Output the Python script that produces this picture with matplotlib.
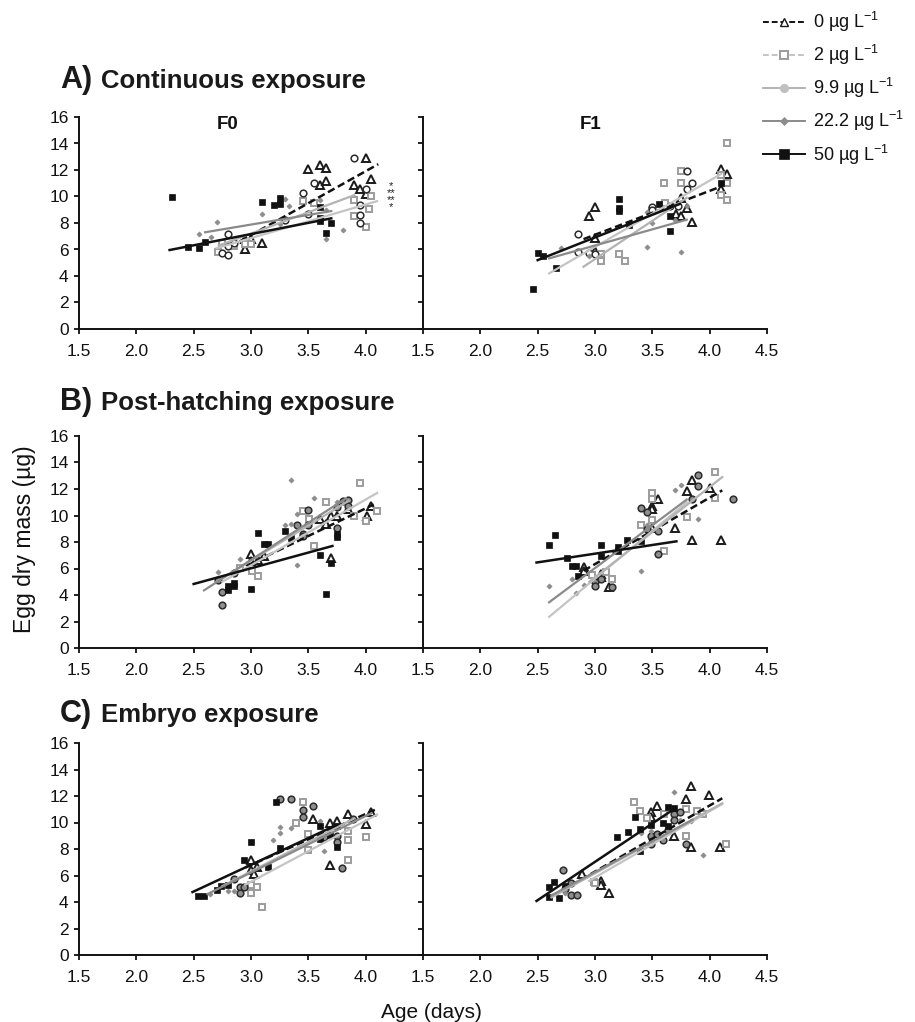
import matplotlib
matplotlib.use("Agg")
import matplotlib.pyplot as plt
from matplotlib.lines import Line2D

plt.rcParams["font.family"] = ["Liberation Sans", "DejaVu Sans"]
plt.rcParams["mathtext.default"] = "regular"

# concentrations (ug/L) and legend labels
CONCS = ["0", "2", "9.9", "22.2", "50"]
LABELS = [r"0 µg L$^{-1}$", r"2 µg L$^{-1}$", r"9.9 µg L$^{-1}$",
          r"22.2 µg L$^{-1}$", r"50 µg L$^{-1}$"]

ROW_TITLES = [("A)", "Continuous exposure"),
              ("B)", "Post-hatching exposure"),
              ("C)", "Embryo exposure")]

X_TICKS = [1.5, 2.0, 2.5, 3.0, 3.5, 4.0, 4.5]
Y_TICKS = [0, 2, 4, 6, 8, 10, 12, 14, 16]

# ---- data: (age, egg dry mass) per concentration ----
A_F0 = {
    "0": ([2.95, 2.95, 3.0, 3.10, 3.50, 3.60, 3.65, 3.60, 3.65, 3.90, 3.95, 4.0, 4.0, 4.05],
          [6.02, 6.83, 6.83, 6.5, 12.06, 12.36, 12.13, 10.84, 11.14, 10.86, 10.58, 12.89, 10.2, 11.3]),
    "2": ([2.71, 2.75, 2.85, 2.95, 3.0, 3.45, 3.55, 3.90, 3.90, 4.0, 4.03, 4.05],
          [5.79, 6.47, 6.27, 6.42, 6.42, 9.64, 9.52, 9.72, 8.5, 7.69, 9.06, 10.03]),
    "9.9": ([2.75, 2.80, 2.80, 2.80, 2.85, 3.30, 3.45, 3.50, 3.55, 3.90, 3.95, 3.95, 3.95, 4.0],
            [5.71, 5.58, 7.16, 6.27, 6.47, 8.2, 10.28, 8.71, 11.04, 12.87, 9.39, 8.6, 8.0, 10.58]),
    "22.2": ([2.55, 2.65, 2.70, 3.10, 3.25, 3.30, 3.33, 3.60, 3.65, 3.65, 3.80],
             [7.16, 6.93, 8.05, 8.65, 7.92, 9.82, 9.31, 9.77, 8.96, 6.78, 7.44]),
    "50": ([2.31, 2.45, 2.55, 2.60, 3.10, 3.20, 3.25, 3.25, 3.60, 3.60, 3.60, 3.65, 3.70],
           [9.97, 6.22, 6.09, 6.57, 9.59, 9.34, 9.90, 9.44, 9.21, 8.35, 8.15, 7.23, 8.0]),
}
A_F1 = {
    "0": ([2.95, 3.0, 3.0, 3.0, 3.71, 3.75, 3.75, 3.80, 3.85, 4.10, 4.15, 4.10],
          [8.5, 9.21, 6.85, 5.91, 8.71, 8.55, 9.9, 9.14, 8.05, 12.1, 11.73, 10.58]),
    "2": ([3.05, 3.05, 3.21, 3.26, 3.50, 3.60, 3.61, 3.75, 3.75, 4.10, 4.15, 4.15, 4.15, 4.10],
          [5.15, 5.66, 5.66, 5.15, 8.88, 11.04, 9.52, 11.93, 11.04, 10.15, 9.72, 11.04, 14.04, 11.6]),
    "9.9": ([2.85, 2.85, 2.95, 3.0, 3.50, 3.50, 3.65, 3.72, 3.80, 3.80, 3.85],
            [7.18, 5.84, 5.76, 5.66, 9.19, 9.01, 9.31, 9.31, 11.93, 10.53, 11.04]),
    "22.2": ([2.70, 2.95, 3.45, 3.50, 3.45, 3.75, 3.70, 3.80],
             [6.09, 5.51, 6.17, 8.0, 8.81, 5.84, 8.2, 9.26]),
    "50": ([2.46, 2.50, 2.55, 2.66, 3.21, 3.21, 3.21, 3.30, 3.56, 3.65, 3.65, 4.10],
           [3.05, 5.71, 5.51, 4.64, 9.82, 9.14, 8.88, 7.87, 9.47, 8.55, 7.41, 11.04]),
}
B_F0 = {
    "0": ([3.0, 3.0, 3.06, 3.11, 3.60, 3.65, 3.70, 3.75, 3.85, 3.70, 4.01, 4.05],
          [7.13, 6.58, 6.65, 6.95, 9.75, 9.38, 9.95, 10.0, 10.5, 6.83, 9.95, 10.75]),
    "2": ([2.90, 3.01, 3.06, 3.45, 3.51, 3.55, 3.65, 3.90, 3.95, 4.0, 4.10],
          [6.03, 5.78, 5.4, 10.33, 9.7, 7.7, 11.0, 9.95, 12.45, 9.55, 10.33]),
    "9.9": ([2.71, 2.75, 2.75, 2.85, 3.40, 3.45, 3.45, 3.50, 3.50, 3.75, 3.75, 3.80, 3.85, 3.85],
            [5.13, 4.2, 3.25, 5.65, 9.25, 8.63, 8.45, 10.4, 9.3, 9.08, 10.65, 11.08, 11.15, 10.75]),
    "22.2": ([2.71, 2.90, 3.35, 3.30, 3.35, 3.40, 3.40, 3.55, 3.75],
             [5.75, 6.75, 12.7, 9.25, 9.33, 10.08, 6.28, 11.33, 11.0]),
    "50": ([2.80, 2.80, 2.85, 2.85, 3.0, 3.06, 3.11, 3.15, 3.30, 3.35, 3.60, 3.65, 3.70, 3.75, 3.75],
           [4.4, 4.7, 4.9, 4.65, 4.45, 8.65, 7.83, 7.88, 8.8, 8.33, 7.0, 4.05, 6.4, 8.58, 8.4]),
}
B_F1 = {
    "0": ([2.90, 2.90, 3.05, 3.05, 3.12, 3.50, 3.50, 3.55, 3.50, 3.70, 3.80, 3.85, 3.85, 4.0, 4.10],
          [6.08, 5.83, 5.58, 5.38, 4.63, 10.75, 10.5, 11.25, 9.08, 9.08, 11.83, 12.7, 8.15, 12.08, 8.15]),
    "2": ([2.97, 3.10, 3.15, 3.40, 3.50, 3.50, 3.50, 3.60, 3.80, 4.05, 4.05],
          [5.5, 5.7, 5.2, 9.25, 11.7, 11.25, 9.65, 7.33, 9.9, 13.25, 11.3]),
    "9.9": ([3.0, 3.0, 3.05, 3.15, 3.40, 3.45, 3.45, 3.55, 3.55, 3.85, 3.90, 3.90, 4.20],
            [4.95, 4.65, 5.2, 4.63, 10.6, 10.25, 8.95, 8.83, 7.08, 11.25, 12.2, 13.03, 11.25]),
    "22.2": ([2.60, 2.80, 2.90, 2.83, 3.40, 3.45, 3.70, 3.75, 3.90],
             [4.65, 5.2, 4.75, 4.15, 5.8, 9.3, 11.9, 12.33, 9.7]),
    "50": ([2.60, 2.65, 2.76, 2.80, 2.83, 2.85, 3.05, 3.05, 3.20, 3.20, 3.28, 3.40],
           [7.8, 8.5, 6.83, 6.2, 6.2, 5.4, 7.8, 6.95, 7.65, 7.33, 8.13, 8.05]),
}
C_F0 = {
    "0": ([3.0, 3.0, 3.03, 3.05, 3.54, 3.69, 3.75, 3.69, 3.85, 4.0, 4.05],
          [7.15, 6.45, 6.15, 6.65, 10.25, 10.0, 10.15, 6.83, 10.63, 9.9, 10.83]),
    "2": ([3.0, 3.0, 3.05, 3.10, 3.39, 3.45, 3.50, 3.50, 3.85, 3.85, 3.85, 4.0],
          [5.25, 4.65, 5.13, 3.65, 10.0, 11.58, 9.15, 7.95, 9.33, 8.7, 7.15, 8.9]),
    "9.9": ([2.85, 2.90, 2.90, 2.94, 3.25, 3.35, 3.45, 3.45, 3.54, 3.64, 3.75, 3.75, 3.79, 3.89],
            [5.7, 5.13, 4.7, 5.13, 11.75, 11.78, 10.95, 10.38, 11.25, 8.9, 8.95, 8.5, 6.58, 10.25]),
    "22.2": ([2.64, 2.80, 2.85, 3.19, 3.25, 3.25, 3.35, 3.60, 3.64],
             [4.63, 4.83, 4.83, 8.65, 9.65, 9.2, 9.58, 10.13, 7.88]),
    "50": ([2.54, 2.59, 2.70, 2.74, 2.80, 2.94, 3.0, 3.15, 3.22, 3.25, 3.60, 3.60, 3.69, 3.75, 3.75],
           [4.45, 4.45, 4.9, 5.2, 5.3, 7.2, 8.5, 6.65, 11.58, 8.08, 9.75, 8.75, 9.05, 9.75, 8.15]),
}
C_F1 = {
    "0": ([2.89, 3.05, 3.05, 3.12, 3.49, 3.49, 3.54, 3.69, 3.79, 3.84, 3.84, 3.99, 4.09],
          [6.08, 5.58, 5.25, 4.65, 10.83, 10.45, 11.25, 9.0, 11.8, 8.15, 12.75, 12.08, 8.13]),
    "2": ([2.99, 3.0, 3.34, 3.39, 3.45, 3.60, 3.79, 3.79, 3.89, 3.94, 4.14],
          [5.5, 5.4, 11.58, 10.9, 10.33, 10.65, 11.0, 8.95, 10.9, 10.63, 8.4]),
    "9.9": ([2.72, 2.74, 2.79, 2.84, 2.79, 3.49, 3.49, 3.54, 3.59, 3.64, 3.69, 3.69, 3.74, 3.79],
            [6.38, 5.0, 4.5, 4.5, 5.4, 8.95, 8.4, 9.15, 8.7, 9.4, 10.65, 10.2, 10.83, 8.4]),
    "22.2": ([2.65, 2.74, 3.40, 3.49, 3.69, 3.74, 3.84, 3.94],
             [5.58, 4.65, 9.2, 9.38, 12.33, 10.2, 10.08, 7.58]),
    "50": ([2.60, 2.60, 2.64, 2.69, 2.74, 3.19, 3.29, 3.35, 3.39, 3.39, 3.49, 3.59, 3.64, 3.64, 3.69],
           [5.15, 4.4, 5.53, 4.33, 5.2, 8.9, 9.28, 10.4, 9.5, 7.88, 9.8, 9.95, 11.2, 9.7, 11.13]),
}

# regression lines: (x start, x end, y start, y end)
A_F0_FIT = {"0": (2.9, 4.11, 6.6, 12.44), "2": (2.7, 4.1, 6.1, 9.65),
            "9.9": (2.72, 3.9, 6.3, 10.1), "22.2": (2.6, 3.7, 7.3, 8.9),
            "50": (2.29, 3.70, 5.96, 8.35)}
A_F1_FIT = {"0": (2.9, 4.11, 6.78, 10.79), "2": (2.6, 4.1, 4.2, 11.7),
            "9.9": (2.9, 3.8, 4.7, 9.9), "22.2": (2.6, 3.8, 5.33, 8.25),
            "50": (2.5, 3.74, 5.2, 9.44)}
B_F0_FIT = {"0": (2.96, 4.07, 6.2, 10.83), "2": (2.75, 4.1, 5.0, 11.7),
            "9.9": (2.70, 3.85, 5.0, 11.1), "22.2": (2.59, 3.83, 4.35, 11.3),
            "50": (2.50, 3.71, 4.83, 7.7)}
B_F1_FIT = {"0": (2.9, 4.11, 5.83, 11.9), "2": (2.60, 3.80, 2.35, 11.0),
            "9.9": (2.95, 4.11, 5.0, 12.9), "22.2": (2.60, 3.80, 3.45, 11.2),
            "50": (2.49, 3.71, 6.45, 8.05)}
C_F0_FIT = {"0": (2.95, 4.08, 6.6, 10.95), "2": (2.95, 4.1, 5.3, 10.6),
            "9.9": (2.75, 3.9, 5.2, 10.3), "22.2": (2.62, 4.05, 4.6, 10.7),
            "50": (2.49, 3.75, 4.75, 9.83)}
C_F1_FIT = {"0": (2.62, 4.11, 4.4, 11.83), "2": (2.95, 4.11, 5.6, 11.4),
            "9.9": (2.62, 4.11, 4.35, 11.45), "22.2": (2.62, 3.85, 4.5, 10.2),
            "50": (2.49, 3.70, 4.08, 11.08)}

PANELS = [[(A_F0, A_F0_FIT), (A_F1, A_F1_FIT)],
          [(B_F0, B_F0_FIT), (B_F1, B_F1_FIT)],
          [(C_F0, C_F0_FIT), (C_F1, C_F1_FIT)]]

# significance stars beside panel A / F0
STARS = "*\n**\n**\n*"

# ---- styles ----
MARKERS = {
    "0": dict(marker="^", ms=5.2, mfc="white", mec="#1a1a1a", mew=1.4),
    "2": dict(marker="s", ms=4.6, mfc="white", mec="#9c9c9c", mew=1.4),
    "9.9": dict(marker="o", ms=4.8, mec="#2b2b2b", mew=1.1),
    "22.2": dict(marker="D", ms=2.6, mfc="#8c8c8c", mec="#8c8c8c", mew=0.5),
    "50": dict(marker="s", ms=4.8, mfc="#111111", mec="#111111", mew=0.5),
}
CIRCLE_FACE = ["white", "#8e8e8e", "#8e8e8e"]
LINES = {"0": ("#111111", (0, (3, 1.5)), 1.8), "2": ("#c4c4c4", "-", 1.6),
         "9.9": ("#b3b3b3", "-", 1.6), "22.2": ("#8a8a8a", "-", 1.6),
         "50": ("#111111", "-", 1.8)}

W, H = 915, 1022
fig = plt.figure(figsize=(W / 100, H / 100), dpi=100)

ax_left = 79
ax_w = 344
row_tops = [117, 436, 743]
ax_h = 212

for r, row in enumerate(PANELS):
    for c, (data, fits) in enumerate(row):
        ax = fig.add_axes([(ax_left + c * ax_w) / W, 1 - (row_tops[r] + ax_h) / H,
                           ax_w / W, ax_h / H])
        ax.patch.set_alpha(0)
        for k in CONCS:
            xs, ys = data[k]
            st = dict(MARKERS[k])
            if k == "9.9":
                st["mfc"] = CIRCLE_FACE[r]
            ax.plot(xs, ys, linestyle="none", zorder=3, **st)
        for k in CONCS:
            x0, x1, y0, y1 = fits[k]
            col, ls, lw = LINES[k]
            ax.plot([x0, x1], [y0, y1], color=col, linestyle=ls, lw=lw, zorder=4)

        ax.set_xlim(1.5, 4.5)
        ax.set_ylim(0, 16)
        ax.set_yticks(Y_TICKS)
        if c == 0:
            ax.set_xticks(X_TICKS[:-1])
            ax.set_xticklabels([f"{v:.1f}" for v in X_TICKS[:-1]])
            ax.set_yticklabels([str(v) for v in Y_TICKS])
        else:
            ax.set_xticks(X_TICKS)
            ax.set_xticklabels([f"{v:.1f}" for v in X_TICKS])
            ax.set_yticklabels([])
        for s in ["top", "right"]:
            ax.spines[s].set_visible(False)
        for s in ["left", "bottom"]:
            ax.spines[s].set_linewidth(1.4)
            ax.spines[s].set_color("#111111")
        ax.tick_params(direction="out", length=3.5, width=1.3, labelsize=12.5,
                       colors="#111111")
        ax.tick_params(axis="x", pad=7)
        ax.tick_params(axis="y", pad=4)

        if r == 0:
            ax.text(2.8 if c == 0 else 2.96, 15.4, "F0" if c == 0 else "F1",
                    ha="center", va="center", fontsize=13.5, fontweight="bold",
                    color="#111111")
            if c == 0:
                ax.text(4.22, 10.0, STARS, ha="center", va="center",
                        multialignment="center", fontsize=8, linespacing=0.62,
                        color="#222222", clip_on=False)

# row titles
title_base = [88, 410, 722]
for (lab, txt), yb in zip(ROW_TITLES, title_base):
    fig.text(60 / W, 1 - yb / H, lab, fontsize=22, fontweight="bold",
             ha="left", va="baseline", color="#1a1a1a")
    fig.text(101 / W, 1 - yb / H, txt, fontsize=18.5, fontweight="bold",
             ha="left", va="baseline", color="#1a1a1a")

fig.text(25 / W, 1 - 539 / H, "Egg dry mass (µg)", rotation=90, fontsize=16.5,
         ha="center", va="center", color="#111111")
fig.text(431 / W, 1 - 1012 / H, "Age (days)", fontsize=15,
         ha="center", va="center", color="#111111")

# legend
handles = []
for k in CONCS:
    col, ls, lw = LINES[k]
    st = dict(MARKERS[k])
    if k == "9.9":
        st.update(mfc="#c0c0c0", mec="#c0c0c0", ms=5.5)
    if k == "2":
        ls = (0, (3, 1.5))
        col = "#c4c4c4"
        st["ms"] = 5.5
    if k == "50":
        st["ms"] = 7.5
    if k == "22.2":
        st["ms"] = 4.5
    if k == "0":
        st["ms"] = 6
        st["mew"] = 1.0
    handles.append(Line2D([0], [0], color=col, linestyle=ls, lw=1.4, **st))
leg = fig.legend(handles, LABELS, loc="upper left",
                 bbox_to_anchor=(763 / W, 1 - 10 / H), frameon=False,
                 fontsize=13, handlelength=2.3, handletextpad=0.45,
                 labelspacing=0.5, borderaxespad=0, borderpad=0)
for t in leg.get_texts():
    t.set_color("#111111")

fig.savefig("out.png", dpi=100)
